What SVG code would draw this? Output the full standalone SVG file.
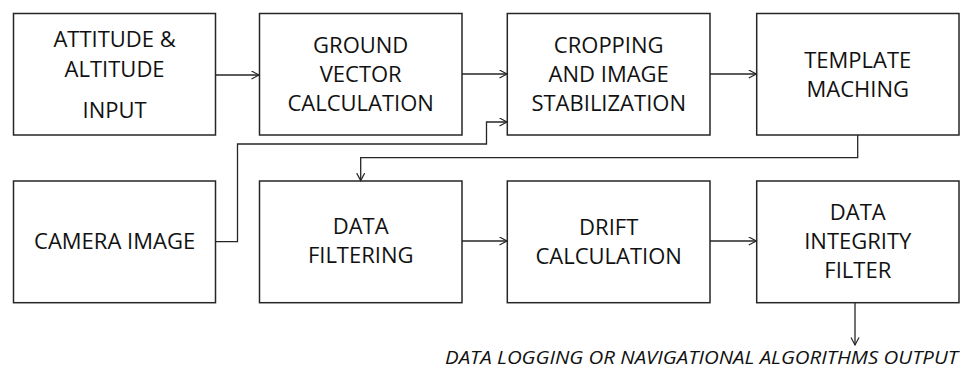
<svg xmlns="http://www.w3.org/2000/svg" width="962" height="369" viewBox="0 0 962 369">
<style>
.box{fill:#fff;stroke:#262626;stroke-width:1.5}
.lbl{font-family:"Open Sans","Liberation Sans",sans-serif;font-size:22px;fill:#111;text-anchor:middle}
.out{font-family:"Open Sans","Liberation Sans",sans-serif;font-size:18px;font-style:italic;fill:#111}
.con{fill:none;stroke:#262626;stroke-width:1.3}
</style>
<defs>
<marker id="ah" markerUnits="userSpaceOnUse" markerWidth="10" markerHeight="10" refX="8" refY="4.5" orient="auto" viewBox="0 0 10 10">
<path d="M0.5,0.5 L8,4.5 L0.5,8.5" fill="none" stroke="#262626" stroke-width="1.2"/>
</marker>
</defs>
<rect width="962" height="369" fill="#fff"/>
<g id="n1"><rect class="box" x="13.5" y="13.5" width="202" height="121.5"/>
<text class="lbl" x="114.6" y="47">ATTITUDE &amp;</text>
<text class="lbl" x="114.6" y="76.5">ALTITUDE</text>
<text class="lbl" x="114.6" y="117.5">INPUT</text></g>
<g id="n2"><rect class="box" x="259.5" y="13.5" width="202.5" height="121.5"/>
<text class="lbl" x="360.7" y="53">GROUND</text>
<text class="lbl" x="360.7" y="82">VECTOR</text>
<text class="lbl" x="360.7" y="111">CALCULATION</text></g>
<g id="n3"><rect class="box" x="507.3" y="13.5" width="202.7" height="121.5"/>
<text class="lbl" x="608.7" y="53">CROPPING</text>
<text class="lbl" x="608.7" y="82">AND IMAGE</text>
<text class="lbl" x="608.7" y="111">STABILIZATION</text></g>
<g id="n4"><rect class="box" x="756.7" y="13.5" width="202.3" height="121.5"/>
<text class="lbl" x="857.8" y="68">TEMPLATE</text>
<text class="lbl" x="857.8" y="97">MACHING</text></g>
<g id="n5"><rect class="box" x="13.5" y="181" width="202" height="121.7"/>
<text class="lbl" x="114.6" y="249">CAMERA IMAGE</text></g>
<g id="n6"><rect class="box" x="259.5" y="181" width="202.5" height="121.7"/>
<text class="lbl" x="360.7" y="234">DATA</text>
<text class="lbl" x="360.7" y="263">FILTERING</text></g>
<g id="n7"><rect class="box" x="507.3" y="181" width="202.7" height="121.7"/>
<text class="lbl" x="608.7" y="234.5">DRIFT</text>
<text class="lbl" x="608.7" y="263.5">CALCULATION</text></g>
<g id="n8"><rect class="box" x="756.7" y="181" width="202.3" height="121.7"/>
<text class="lbl" x="857.8" y="220">DATA</text>
<text class="lbl" x="857.8" y="249">INTEGRITY</text>
<text class="lbl" x="857.8" y="278">FILTER</text></g>
<g id="connectors">
<path class="con" d="M215.7,75 H259" marker-end="url(#ah)"/>
<path class="con" d="M462,74 H507" marker-end="url(#ah)"/>
<path class="con" d="M710,74 H756.3" marker-end="url(#ah)"/>
<path class="con" d="M215.7,241.7 H237.5 V144 H486.5 V122 H507" marker-end="url(#ah)"/>
<path class="con" d="M857.7,135 V157.7 H360.7 V180.6" marker-end="url(#ah)"/>
<path class="con" d="M462,241 H507" marker-end="url(#ah)"/>
<path class="con" d="M710,241 H756.3" marker-end="url(#ah)"/>
<path class="con" d="M855,302.7 V345" marker-end="url(#ah)"/>
</g>
<text class="out" x="445" y="364" textLength="513" lengthAdjust="spacingAndGlyphs">DATA LOGGING OR NAVIGATIONAL ALGORITHMS OUTPUT</text>
</svg>
